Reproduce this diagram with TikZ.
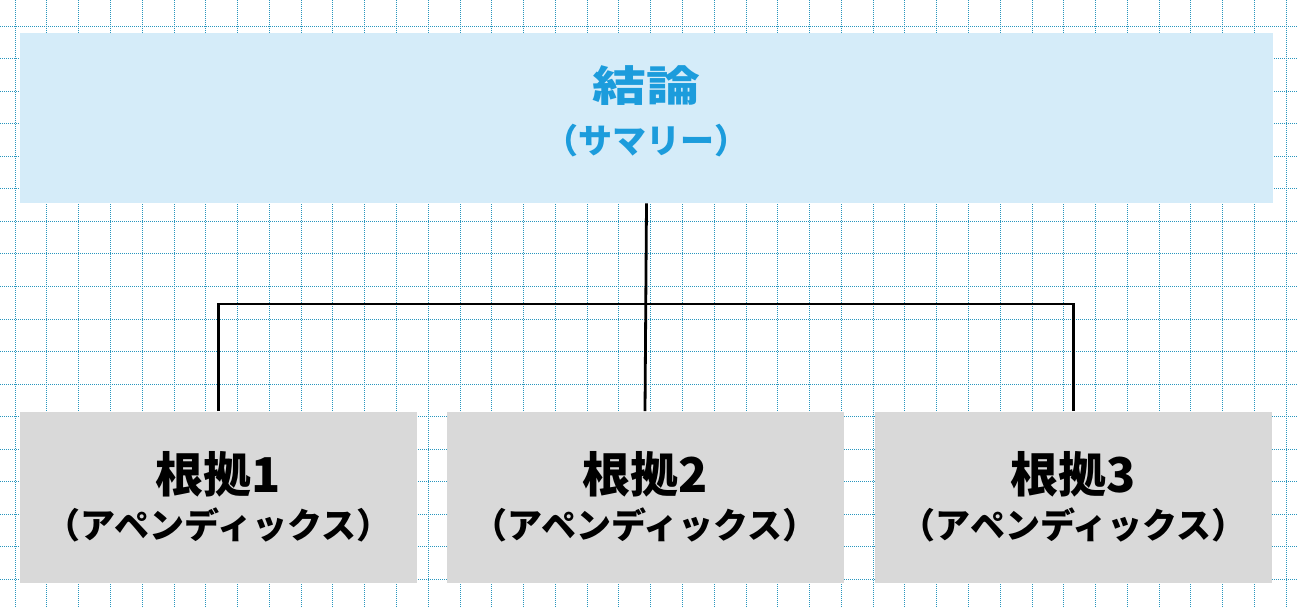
\documentclass[tikz,border=0pt]{standalone}
\usepackage{fontspec}
\usepackage{tikz}
\usetikzlibrary{positioning}
\newfontfamily\jp{Noto Sans CJK JP}
\definecolor{gridblue}{RGB}{40,150,190}
\definecolor{sumfill}{RGB}{213,236,249}
\definecolor{sumtext}{RGB}{28,156,220}
\definecolor{appfill}{RGB}{217,217,217}
\newcommand{\paren}[1]{\kern-.5em（#1）\kern-.5em}

\begin{document}
\begin{tikzpicture}[x=1pt,y=-1pt,semithick]
\tikzstyle{gridline}=[draw=gridblue,line width=0.8pt,dash pattern=on 1pt off 1pt]
\tikzstyle{summary}=[fill=sumfill,text=sumtext,minimum width=1253pt,minimum height=170pt,inner sep=0pt,align=center,font=\jp\bfseries\fontsize{34}{48}\selectfont]
\tikzstyle{appendix}=[fill=appfill,text=black,minimum width=397pt,minimum height=171pt,inner sep=0pt,align=center,font=\jp\bfseries\fontsize{35}{48}\selectfont]
\tikzstyle{link}=[draw=black,line width=2.8pt]

\useasboundingbox (0,0) rectangle (1298,607);
\fill[white] (0,0) rectangle (1298,607);

% grid
\foreach \i in {0,...,40}
  \draw[gridline] (15+31.78*\i,0) -- (15+31.78*\i,607);
\foreach \j in {0,...,17}
  \draw[gridline] (0,26+32.55*\j) -- (1298,26+32.55*\j);

\node[summary] (top) at (646.5,118) {\scalebox{1.28}[1]{\fontsize{42}{48}\selectfont 結論}\\[4pt]\fontsize{34}{48}\selectfont\paren{サマリー}\rule[-16pt]{0pt}{16pt}};

\node[appendix] (b1) at (218.5,497) {\fontsize{48}{48}\selectfont 根拠1\\[-2pt]\fontsize{35}{48}\selectfont\paren{アペンディックス}};
\node[appendix] (b2) at (645,497) {\fontsize{48}{48}\selectfont 根拠2\\[-2pt]\fontsize{35}{48}\selectfont\paren{アペンディックス}};
\node[appendix] (b3) at (1073.6,497) {\fontsize{48}{48}\selectfont 根拠3\\[-2pt]\fontsize{35}{48}\selectfont\paren{アペンディックス}};

\coordinate (bar) at (646.5,304);

\draw[link] (top.south) -- (b2.north);
\draw[link] (b1.north) |- (bar) -| (b3.north);
\end{tikzpicture}
\end{document}
